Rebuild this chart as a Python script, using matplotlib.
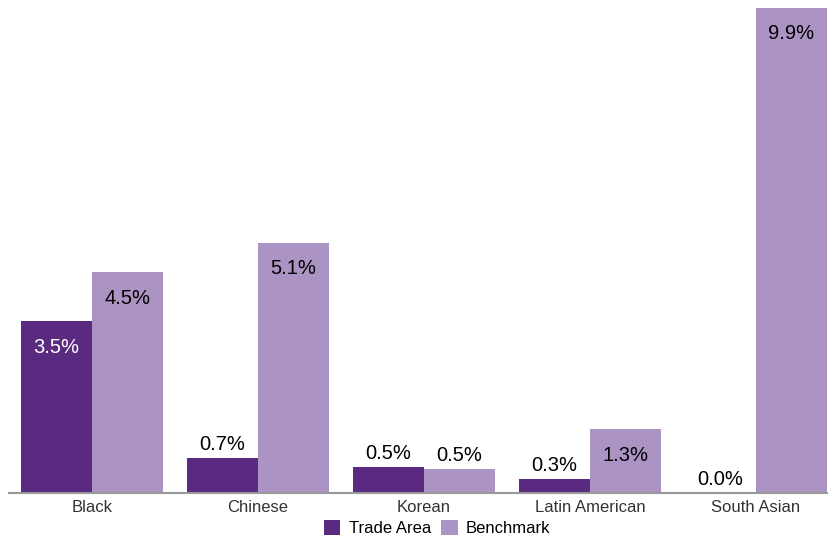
import matplotlib
matplotlib.use("Agg")
import matplotlib.pyplot as plt
import numpy as np

plt.rcParams["font.family"] = ["Liberation Sans", "DejaVu Sans"]

categories = ["Black", "Chinese", "Korean", "Latin American", "South Asian"]
trade_area = [3.5, 0.7, 0.53, 0.27, 0.0]
benchmark = [4.5, 5.1, 0.48, 1.3, 9.9]

DARK = "#592a80"
LIGHT = "#ab94c3"

W, H = 829, 541
fig = plt.figure(figsize=(W / 100, H / 100), dpi=100)
# axes runs slightly past the right edge, as in the reference
ax = fig.add_axes([9 / W, (H - 492.7) / H, 830 / W, 490 / H])

x = np.arange(len(categories))
w = 71 / 166
b1 = ax.bar(x - w / 2, trade_area, w, color=DARK, label="Trade Area")
b2 = ax.bar(x + w / 2, benchmark, w, color=LIGHT, label="Benchmark")


def annotate(bars, inside_color):
    for b in bars:
        h = b.get_height()
        xc = b.get_x() + b.get_width() / 2
        if h >= 1.0:
            ax.annotate(f"{h:.1f}%", (xc, h), xytext=(0, -12), textcoords="offset points",
                        ha="center", va="top", fontsize=14.5, color=inside_color)
        else:
            ax.annotate(f"{h:.1f}%", (xc, h), xytext=(0, 3), textcoords="offset points",
                        ha="center", va="bottom", fontsize=14.5, color="black")


annotate(b1, "white")
annotate(b2, "black")

ax.set_xlim(-0.5, 4.5)
ax.set_ylim(0, 10)
ax.set_xticks(x)
ax.set_xticklabels(categories, fontsize=12, color="#333333")
ax.tick_params(axis="x", length=0, pad=5)
ax.set_yticks([])
for s in ["top", "right", "left"]:
    ax.spines[s].set_visible(False)
ax.spines["bottom"].set_color("#999999")
ax.spines["bottom"].set_linewidth(1.5)

fig.legend(handles=[b1, b2], loc="center", bbox_to_anchor=(437 / W, 1 - 528 / H),
           ncol=2, frameon=False, fontsize=12, handlelength=1.0, handleheight=1.0,
           handletextpad=0.5, columnspacing=0.6, borderaxespad=0)

fig.savefig("out.png", dpi=100)
